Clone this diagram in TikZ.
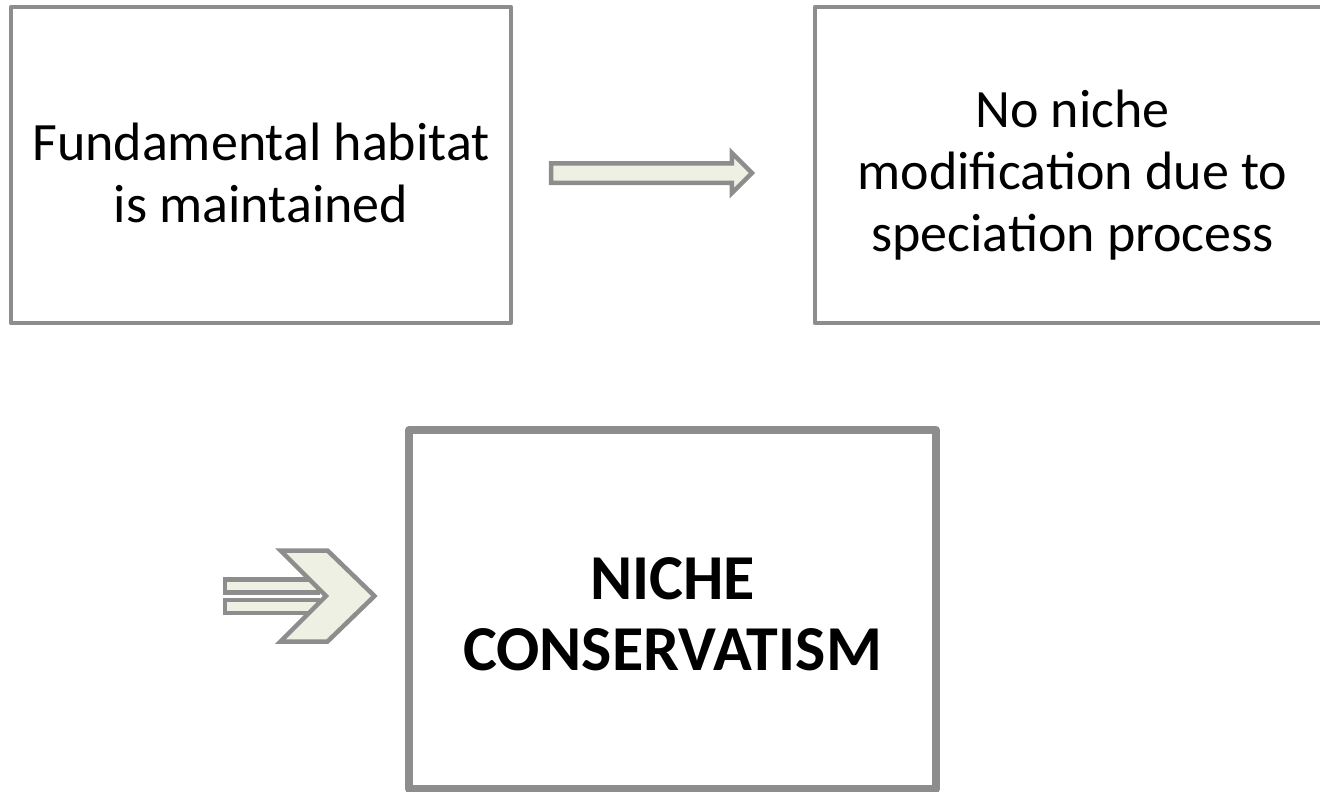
\documentclass[tikz,border=0pt]{standalone}
\usepackage{fontspec}
\setmainfont{Carlito}
\usetikzlibrary{shapes.arrows}
\definecolor{boxgray}{RGB}{141,141,141}
\definecolor{arrowfill}{RGB}{237,240,227}
\tikzstyle{box}=[draw=boxgray,line width=4.5pt,line join=round,inner sep=0pt]
\tikzstyle{bigbox}=[box,line width=8pt]
\tikzstyle{boxtext}=[align=center,inner sep=0pt,font=\fontsize{54}{62}\selectfont]
\tikzstyle{bigtext}=[align=center,inner sep=0pt,font=\fontsize{64}{71}\selectfont\bfseries]
\tikzstyle{arrowline}=[draw=boxgray,fill=arrowfill,line width=4.5pt,line join=miter]

\begin{document}
\begin{tikzpicture}[x=1pt,y=-1pt]
    \useasboundingbox (0,0) rectangle (1320,792);
    % First we draw the boxes
    \node[box,minimum width=500pt,minimum height=316pt] (habitat) at (261,165) {};
    \node[box,minimum width=515pt,minimum height=316pt] (nomod) at (1072.5,165) {};
    \node[bigbox,minimum width=527pt,minimum height=359pt] (conserv) at (672.5,609.5) {};
    % Then the texts, a bit below the box centres
    \node[boxtext] (habitattext) at ([yshift=-8pt]habitat.center) {Fundamental habitat\\is maintained};
    \node[boxtext] (nomodtext) at ([yshift=-10pt]nomod.center) {No niche\\modification due to\\speciation process};
    \node[bigtext] (conservtext) at ([yshift=-5pt]conserv.center) {NICHE\\CONSERVATISM};
    % Block arrow between the two upper boxes
    \node[single arrow,arrowline,anchor=tail,minimum height=201pt,minimum width=36pt,
          inner sep=7.5pt,outer sep=0pt,single arrow head extend=10.5pt] (step) at (551,173) {};
    % Double bar with chevron in front of the lower box
    \foreach \y in {586,606.5}
        \path[arrowline] (225,\y-6.5) rectangle (318,\y+6.5);
    \path[arrowline] (280.5,550.5) -- (327.5,550.5) -- (374.5,596) -- (327.5,641.5)
        -- (280.5,641.5) -- (326,596) -- cycle;
\end{tikzpicture}
\end{document}
